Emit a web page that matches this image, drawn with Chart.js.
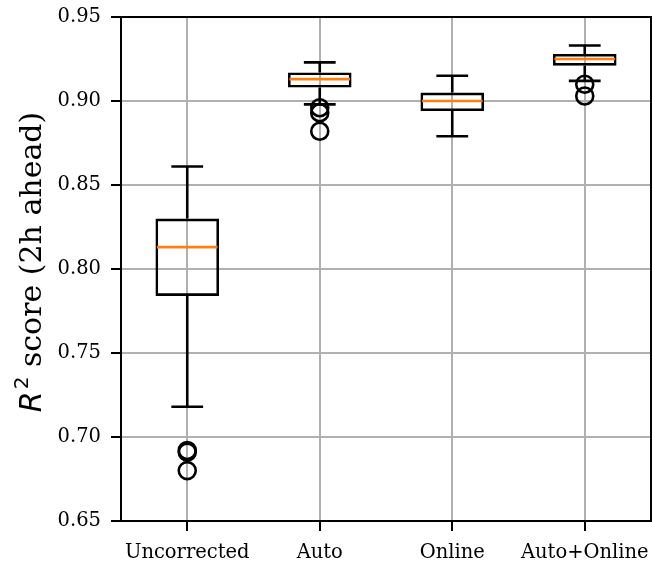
<!DOCTYPE html>
<html>
<head>
<meta charset="utf-8">
<script src="https://cdn.jsdelivr.net/npm/chart.js@4"></script>
<style>
  html, body { margin: 0; padding: 0; background: #fff; }
  #wrap { width: 652px; height: 561px; }
</style>
</head>
<body>
<div id="wrap"><canvas id="boxChart" width="652" height="561"></canvas></div>
<script>
// box plot data
const categories  = ['Uncorrected', 'Auto', 'Online', 'Auto+Online'];
const whiskerLow  = [0.718, 0.898, 0.879, 0.912];
const q1          = [0.784, 0.908, 0.894, 0.921];
const medians     = [0.813, 0.913, 0.900, 0.925];
const q3          = [0.830, 0.917, 0.905, 0.928];
const whiskerHigh = [0.861, 0.923, 0.915, 0.933];
const outliers    = [[0.692, 0.691, 0.680], [0.896, 0.893, 0.882], [], [0.910, 0.903]];
const yTicks      = [0.65, 0.70, 0.75, 0.80, 0.85, 0.90, 0.95];

const serif = "'DejaVu Serif', serif";

const outlierPoints = [];
outliers.forEach((list, i) => {
    list.forEach(v => outlierPoints.push({ x: categories[i], y: v }));
});

// whiskers, caps, medians, top/right spines and the y title
const boxExtras = {
    id: 'boxExtras',
    afterDatasetsDraw(chart) {
        const { ctx, scales: { x, y } } = chart;
        const half = (x.getPixelForValue(1) - x.getPixelForValue(0)) / 2;
        const boxHalf = half * 0.48;
        const capHalf = half * 0.24;
        ctx.save();
        ctx.lineCap = 'butt';
        categories.forEach((c, i) => {
            const cx = x.getPixelForValue(i);
            ctx.strokeStyle = '#000';
            ctx.lineWidth = 2.6;
            ctx.beginPath();
            ctx.moveTo(cx, y.getPixelForValue(q3[i]));
            ctx.lineTo(cx, y.getPixelForValue(whiskerHigh[i]));
            ctx.moveTo(cx, y.getPixelForValue(q1[i]));
            ctx.lineTo(cx, y.getPixelForValue(whiskerLow[i]));
            ctx.moveTo(cx - capHalf, y.getPixelForValue(whiskerHigh[i]));
            ctx.lineTo(cx + capHalf, y.getPixelForValue(whiskerHigh[i]));
            ctx.moveTo(cx - capHalf, y.getPixelForValue(whiskerLow[i]));
            ctx.lineTo(cx + capHalf, y.getPixelForValue(whiskerLow[i]));
            ctx.stroke();
            ctx.strokeStyle = '#ff7f0e';
            ctx.beginPath();
            ctx.moveTo(cx - boxHalf + 1.5, y.getPixelForValue(medians[i]));
            ctx.lineTo(cx + boxHalf - 1.5, y.getPixelForValue(medians[i]));
            ctx.stroke();
        });
        ctx.restore();
    },
    afterDraw(chart) {
        const { ctx, chartArea: a } = chart;
        ctx.save();
        ctx.strokeStyle = '#000';
        ctx.lineWidth = 2;
        ctx.beginPath();
        ctx.moveTo(a.left, a.top);
        ctx.lineTo(a.right, a.top);
        ctx.lineTo(a.right, a.bottom);
        ctx.stroke();

        // y axis title: italic R, superscript 2, then serif text
        const parts = [
            { t: 'R', font: "italic 30px 'DejaVu Sans'", dy: 0 },
            { t: '2', font: "20px 'DejaVu Sans'", dy: -13 },
            { t: ' score (2h ahead)', font: "30px " + serif, dy: 0 }
        ];
        let total = 0;
        parts.forEach(p => { ctx.font = p.font; p.w = ctx.measureText(p.t).width; total += p.w; });
        ctx.translate(41, 263);
        ctx.rotate(-Math.PI / 2);
        ctx.fillStyle = '#000';
        ctx.textBaseline = 'alphabetic';
        let px = -total / 2;
        parts.forEach(p => {
            ctx.font = p.font;
            ctx.fillText(p.t, px, p.dy);
            px += p.w + (p.t === 'R' ? 2 : 0);
        });
        ctx.restore();
    }
};

new Chart(document.getElementById('boxChart'), {
    type: 'bar',
    data: {
        labels: categories,
        datasets: [
            {
                type: 'bar',
                data: categories.map((c, i) => [q1[i], q3[i]]),
                backgroundColor: 'rgba(0,0,0,0)',
                borderColor: '#000',
                borderWidth: 2.6,
                borderSkipped: false,
                barPercentage: 0.48,
                categoryPercentage: 1
            },
            {
                type: 'line',
                data: outlierPoints,
                showLine: false,
                pointStyle: 'circle',
                pointRadius: 8.5,
                pointBorderWidth: 2.6,
                pointBorderColor: '#000',
                pointBackgroundColor: 'rgba(0,0,0,0)'
            }
        ]
    },
    options: {
        responsive: false,
        animation: false,
        layout: { autoPadding: false, padding: { top: 17, right: 1, left: 0, bottom: 0 } },
        plugins: {
            legend: { display: false },
            tooltip: { enabled: false }
        },
        scales: {
            x: {
                offset: true,
                grid: { offset: false, color: '#b0b0b0', lineWidth: 2, tickColor: '#000', tickLength: 10, tickWidth: 2 },
                border: { color: '#000', width: 2 },
                ticks: { font: { family: serif, size: 19.5 }, color: '#000', padding: 10, maxRotation: 0, autoSkip: false },
                afterFit: s => { s.height = 40; s.paddingLeft = 0; s.paddingRight = 0; }
            },
            y: {
                min: 0.65,
                max: 0.95,
                afterBuildTicks: s => { s.ticks = yTicks.map(v => ({ value: v })); },
                grid: { color: '#b0b0b0', lineWidth: 2, tickColor: '#000', tickLength: 10, tickWidth: 2 },
                border: { color: '#000', width: 2 },
                ticks: { font: { family: serif, size: 19.5 }, color: '#000', padding: 10, callback: v => v.toFixed(2) },
                afterFit: s => { s.width = 121; s.paddingTop = 0; s.paddingBottom = 0; }
            }
        }
    },
    plugins: [boxExtras]
});
</script>
</body>
</html>
